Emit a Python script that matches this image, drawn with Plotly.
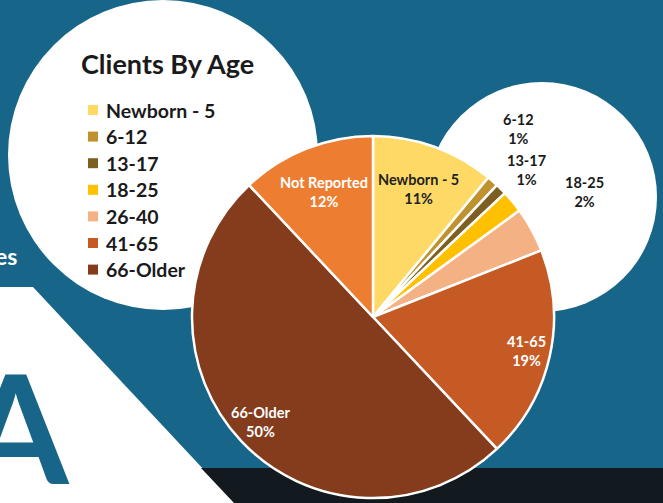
import math
import plotly.graph_objects as go

# ── 데이터 ──
labels = ["Newborn - 5", "6-12", "13-17", "18-25", "26-40", "41-65", "66-Older", "Not Reported"]
values = [11, 1, 1, 2, 4, 19, 50, 12]
colors = ["#FFD966", "#C0922E", "#7D5F22", "#FFC000", "#F4B183", "#C55A24", "#843C1C", "#ED7D31"]
inside_labels = ["Newborn - 5", "41-65", "66-Older", "Not Reported"]
outside_labels = ["6-12", "13-17", "18-25"]
legend_labels = labels[:7]

W, H = 663, 503
BLUE = "#176589"
CX, CY, R = 373, 317, 181     # 파이 중심/반지름 (px)


def px(x):
    return x / W


def py(y):
    return 1 - y / H


fig = go.Figure(go.Pie(
    labels=labels, values=values, sort=False, direction="clockwise", rotation=0,
    marker=dict(colors=colors, line=dict(color="white", width=2.5)),
    textinfo="none", showlegend=False, hoverinfo="label+percent",
    domain=dict(x=[px(CX - R), px(CX + R)], y=[py(CY + R), py(CY - R)]),
))

shapes = [
    # 흰 원 (왼쪽 / 오른쪽)
    dict(type="circle", x0=px(8), x1=px(318), y0=py(0), y1=py(310)),
    dict(type="circle", x0=px(427), x1=px(657), y0=py(82), y1=py(312)),
    # 흰 사선 띠
    dict(type="path", path=f"M 0 {py(287)} L {px(33)} {py(287)} L {px(235)} 0 L 0 0 Z"),
    # 하단 어두운 바
    dict(type="path", fillcolor="#121A20",
         path=f"M {px(201)} {py(468)} L 1 {py(468)} L 1 0 L {px(234)} 0 Z"),
]
for s in shapes:
    s.update(xref="paper", yref="paper", layer="below", line_width=0)
    s.setdefault("fillcolor", "white")

annos = [
    dict(x=px(167), y=py(64), text="<b>Clients By Age</b>",
         font=dict(family="Lato", size=27, color="#1a1a1a")),
    dict(x=px(19), y=py(256), text="<b>es</b>", xanchor="right",
         font=dict(family="Lato", size=23, color="white")),
    dict(x=px(72), y=py(425), text="<b>A</b>", xanchor="right",
         font=dict(family="Lato", size=152, color=BLUE)),
]

# 범례 (직접 그림)
for i, lab in enumerate(legend_labels):
    y = 110 + i * 26.6
    shapes.append(dict(type="rect", xref="paper", yref="paper", line_width=0,
                       fillcolor=colors[labels.index(lab)],
                       x0=px(88), x1=px(98), y0=py(y + 5), y1=py(y - 5)))
    annos.append(dict(x=px(104), y=py(y), text=f"<b>{lab}</b>", xanchor="left",
                      font=dict(family="Lato", size=19.5, color="#1a1a1a")))

# 파이 안쪽 라벨: 조각 중간 각도에서 계산
label_r = {"Newborn - 5": 0.75, "41-65": 0.87, "66-Older": 0.85, "Not Reported": 0.74}
total = sum(values)
cum = 0
for lab, v in zip(labels, values):
    mid = (cum + v / 2) / total * 2 * math.pi
    cum += v
    if lab not in inside_labels:
        continue
    r = label_r[lab] * R
    x, y = CX + r * math.sin(mid), CY - r * math.cos(mid)
    col = "#222222" if lab == "Newborn - 5" else "white"
    annos.append(dict(x=px(x), y=py(y), text=f"<b>{lab}<br>{v}%</b>",
                      font=dict(family="Lato", size=14.5, color=col)))

# 바깥 라벨
out_pos = [(518, 129), (526, 170), (584, 192)]
for lab, (x, y) in zip(outside_labels, out_pos):
    v = values[labels.index(lab)]
    annos.append(dict(x=px(x), y=py(y), text=f"<b>{lab}<br>{v}%</b>",
                      font=dict(family="Lato", size=14.5, color="#1a1a1a")))

for a in annos:
    a.update(xref="paper", yref="paper", showarrow=False, yanchor="middle")
    a.setdefault("xanchor", "center")

fig.update_layout(
    width=W, height=H, margin=dict(l=0, r=0, t=0, b=0),
    paper_bgcolor=BLUE, plot_bgcolor=BLUE,
    shapes=shapes, annotations=annos,
)

fig.write_html("out.html", config={"displayModeBar": False},
               post_script="document.body.style.margin='0';")
